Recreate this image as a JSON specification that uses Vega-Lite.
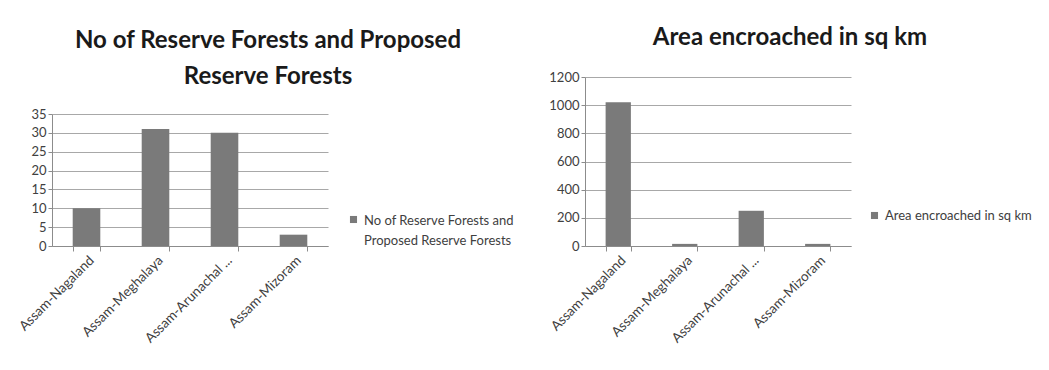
{
  "$schema": "https://vega.github.io/schema/vega-lite/v6.json",
  "autosize": {"type": "none"},
  "padding": {"left": 52, "top": 77, "right": 997, "bottom": 293},
  "background": "white",
  "bounds": "flush",
  "spacing": 257,
  "resolve": {"scale": {"color": "independent"}, "legend": {"color": "independent"}},
  "config": {
    "font": "Lato",
    "view": {"stroke": null},
    "axis": {
      "labelFont": "Lato",
      "labelColor": "#404040",
      "domainColor": "#8c8c8c",
      "tickColor": "#8c8c8c",
      "gridColor": "#a8a8a8",
      "title": null
    },
    "title": {"font": "Lato", "fontSize": 24, "fontWeight": "bold", "color": "#1a1a1a", "anchor": "middle"},
    "legend": {"labelFont": "Lato", "labelFontSize": 13, "labelColor": "#404040", "padding": 0}
  },
  "hconcat": [
    {
      "width": 276,
      "height": 169,
      "title": {"text": ["No of Reserve Forests and Proposed", "Reserve Forests"], "lineHeight": 36, "dx": 78, "dy": 16, "frame": "group"},
      "data": {"values": [
        {"state": "Assam-Nagaland", "value": 10, "series": "No of Reserve Forests and Proposed Reserve Forests"},
        {"state": "Assam-Meghalaya", "value": 31, "series": "No of Reserve Forests and Proposed Reserve Forests"},
        {"state": "Assam-Arunachal ...", "value": 30, "series": "No of Reserve Forests and Proposed Reserve Forests"},
        {"state": "Assam-Mizoram", "value": 3, "series": "No of Reserve Forests and Proposed Reserve Forests"}
      ]},
      "mark": {"type": "bar"},
      "encoding": {
        "x": {"field": "state", "type": "nominal", "sort": null,
          "scale": {"paddingInner": 0.6, "paddingOuter": 0.3},
          "axis": {"labelAngle": -45, "labelFontSize": 13.5, "tickBand": "extent", "tickSize": 5, "labelPadding": 2, "grid": false}},
        "y": {"field": "value", "type": "quantitative",
          "scale": {"domain": [0, 35], "range": [169, 37], "nice": false},
          "axis": {"values": [0, 5, 10, 15, 20, 25, 30, 35], "labelFontSize": 13, "tickSize": 4, "grid": true}},
        "color": {"field": "series", "type": "nominal",
          "scale": {"range": ["#7a7a7a"]},
          "legend": {"title": null, "orient": "none", "legendX": 295, "legendY": 136, "symbolType": "square", "symbolSize": 50, "symbolStrokeWidth": 0, "symbolOpacity": 1, "labelLimit": 0, "labelOffset": 4, "labelBaseline": "alphabetic", "labelLineHeight": 20,
            "labelExpr": "datum.label == 'No of Reserve Forests and Proposed Reserve Forests' ? ['No of Reserve Forests and', 'Proposed Reserve Forests'] : datum.label",
            "encode": {"labels": {"update": {"dy": {"value": 5}, "lineHeight": {"value": 20}}}}}}
      }
    },
    {
      "width": 266,
      "height": 169,
      "title": {"text": "Area encroached in sq km", "dx": 72, "dy": -17, "frame": "group"},
      "data": {"values": [
        {"state": "Assam-Nagaland", "value": 1020, "series": "Area encroached in sq km"},
        {"state": "Assam-Meghalaya", "value": 15, "series": "Area encroached in sq km"},
        {"state": "Assam-Arunachal ...", "value": 250, "series": "Area encroached in sq km"},
        {"state": "Assam-Mizoram", "value": 15, "series": "Area encroached in sq km"}
      ]},
      "mark": {"type": "bar"},
      "encoding": {
        "x": {"field": "state", "type": "nominal", "sort": null,
          "scale": {"paddingInner": 0.62, "paddingOuter": 0.31},
          "axis": {"labelAngle": -45, "labelFontSize": 13.5, "tickBand": "extent", "tickSize": 5, "labelPadding": 2, "grid": false}},
        "y": {"field": "value", "type": "quantitative",
          "scale": {"domain": [0, 1200], "nice": false},
          "axis": {"values": [0, 200, 400, 600, 800, 1000, 1200], "format": "d", "labelFontSize": 13, "tickSize": 4, "grid": true}},
        "color": {"field": "series", "type": "nominal",
          "scale": {"range": ["#7a7a7a"]},
          "legend": {"title": null, "orient": "none", "legendX": 283, "legendY": 132, "symbolType": "square", "symbolSize": 50, "symbolStrokeWidth": 0, "symbolOpacity": 1, "labelLimit": 0, "labelOffset": 4}}
      }
    }
  ]
}
